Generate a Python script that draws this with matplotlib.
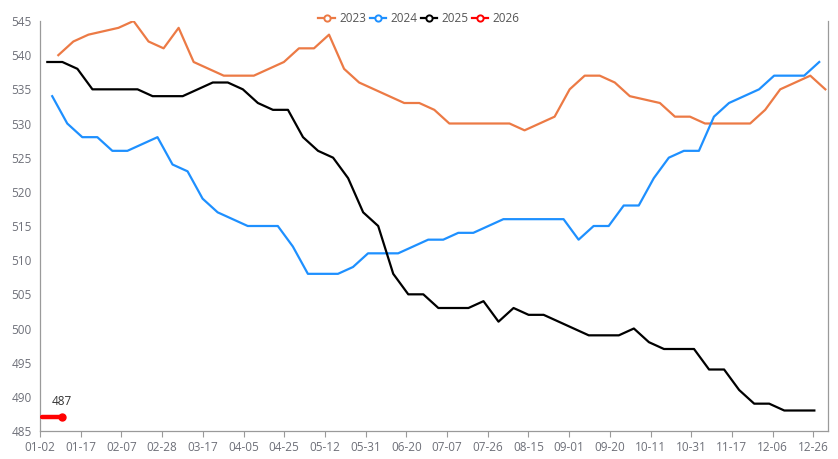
import numpy as np
import matplotlib
matplotlib.use('Agg')
import matplotlib.pyplot as plt
from matplotlib.lines import Line2D

plt.rcParams['font.family'] = ['Open Sans', 'DejaVu Sans']

# tick labels of the category axis (one every few weeks)
x_labels = ['01-02', '01-17', '02-07', '02-28', '03-17', '04-05', '04-25',
            '05-12', '05-31', '06-20', '07-07', '07-26', '08-15', '09-01',
            '09-20', '10-11', '10-31', '11-17', '12-06', '12-26']

# weekly values per year
v2023 = [540, 542, 543, 543.5, 544, 545, 542, 541, 544, 539, 538, 537, 537,
         537, 538, 539, 541, 541, 543, 538, 536, 535, 534, 533, 533, 532, 530,
         530, 530, 530, 530, 529, 530, 531, 535, 537, 537, 536, 534, 533.5,
         533, 531, 531, 530, 530, 530, 530, 532, 535, 536, 537, 535]
v2024 = [534, 530, 528, 528, 526, 526, 527, 528, 524, 523, 519, 517, 516,
         515, 515, 515, 512, 508, 508, 508, 509, 511, 511, 511, 512, 513, 513,
         514, 514, 515, 516, 516, 516, 516, 516, 513, 515, 515, 518, 518, 522,
         525, 526, 526, 531, 533, 534, 535, 537, 537, 537, 539]
v2025 = [539, 539, 538, 535, 535, 535, 535, 534, 534, 534, 535, 536, 536,
         535, 533, 532, 532, 528, 526, 525, 522, 517, 515, 508, 505, 505, 503,
         503, 503, 504, 501, 503, 502, 502, 501, 500, 499, 499, 499, 500, 498,
         497, 497, 497, 494, 494, 491, 489, 489, 488, 488, 488]
v2026 = [487, 487]

# week step in label units, and where each year's first week falls
step = {'2023': 0.3695, '2024': 0.3695, '2025': 0.3695, '2026': 0.49}
start = {'2023': 0.45, '2024': 0.30, '2025': 0.18, '2026': 0.05}
colors = {'2023': '#EC7A45', '2024': '#1E90FF', '2025': '#000000', '2026': '#FF0000'}
series = {'2023': v2023, '2024': v2024, '2025': v2025, '2026': v2026}

fig = plt.figure(figsize=(8.38, 4.59), dpi=100)
ax = fig.add_axes([40 / 838, 28 / 459, 788 / 838, 410 / 459])

for name, vals in series.items():
    x = start[name] + step[name] * np.arange(len(vals))
    if name == '2026':
        ax.plot(x, vals, color=colors[name], lw=3.2, solid_capstyle='round', zorder=5)
        ax.plot(x[-1], vals[-1], 'o', color=colors[name], ms=5, zorder=6)
        ax.annotate(f'{vals[-1]}', (x[-1], vals[-1]), xytext=(0, 7),
                    textcoords='offset points', ha='center', va='bottom',
                    fontsize=8.5, color='#333333')
    else:
        ax.plot(x, vals, color=colors[name], lw=1.6, zorder=3)

ax.set_xlim(0, 19.36)
ax.set_ylim(485, 545)
ax.set_xticks(range(len(x_labels)))
ax.set_xticklabels(x_labels)
ax.set_yticks(range(485, 546, 5))

ax.spines['top'].set_visible(False)
for s in ['left', 'right', 'bottom']:
    ax.spines[s].set_color('#9a9a9a')
    ax.spines[s].set_linewidth(0.9)
ax.tick_params(axis='x', length=4, color='#9a9a9a', labelsize=8.5,
               labelcolor='#6E7079', pad=3)
ax.tick_params(axis='y', length=0, labelsize=8.5, labelcolor='#6E7079', pad=6)

handles = [Line2D([0], [0], color=colors[n], lw=1.6, marker='o', ms=4.5,
                  markerfacecolor='white', markeredgewidth=1.4) for n in series]
fig.legend(handles, list(series), loc='center', bbox_to_anchor=(0.5, 1 - 19 / 459),
           ncol=4, frameon=False, fontsize=8.5, handlelength=1.4,
           handletextpad=0.35, columnspacing=0.3, labelcolor='#555555')

plt.savefig('out.png', dpi=100)
